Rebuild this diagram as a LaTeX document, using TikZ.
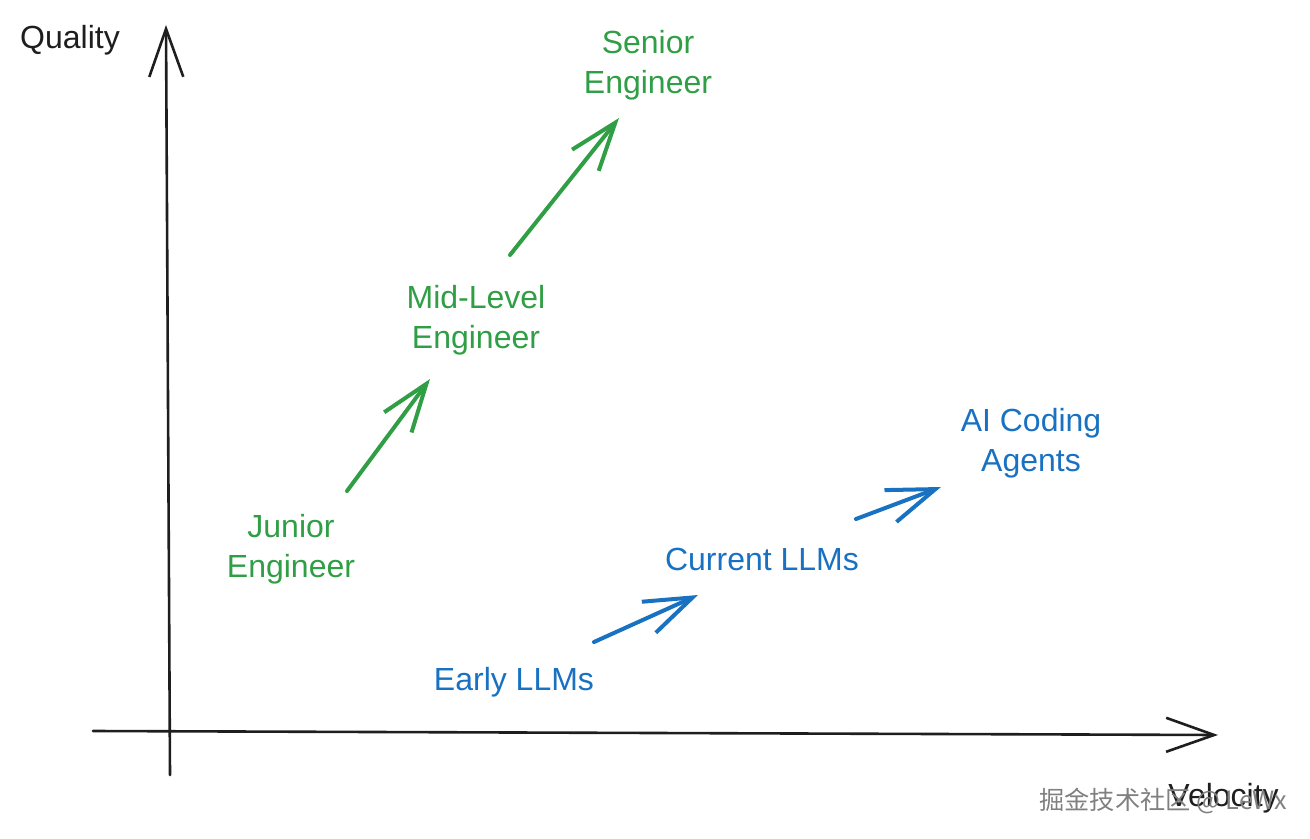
\documentclass[tikz,border=0pt]{standalone}
\usepackage{fontspec}
\setmainfont{Liberation Sans}
\newfontfamily\cjkfont{Noto Sans CJK SC}
\usetikzlibrary{arrows.meta}
\definecolor{exgreen}{RGB}{47,158,68}
\definecolor{exblue}{RGB}{25,113,194}
\definecolor{exblack}{RGB}{30,30,30}
\tikzset{
  lbl/.style={align=center, inner sep=0pt, font=\fontsize{16}{20}\selectfont},
  glbl/.style={lbl, text=exgreen},
  blbl/.style={lbl, text=exblue},
  axisline/.style={draw=exblack, line width=1.3pt, line cap=round, line join=round,
    -{Straight Barb[length=24pt,width=17pt,line width=1.3pt]}},
  progarrow/.style={line width=2pt, line cap=round, line join=round,
    -{Straight Barb[length=24pt,width=17pt,line width=2pt]}},
}
\begin{document}
\begin{tikzpicture}[x=0.5pt,y=-0.5pt]
\useasboundingbox (0,0) rectangle (1310,839);
% axes
\coordinate (yb) at (170,775);
\coordinate (yt) at (166,25);
\coordinate (xl) at (93,731);
\coordinate (xr) at (1218,735);
\draw[axisline] (yb) -- (yt);
\draw[axisline] (xl) -- (xr);
\node[lbl, text=exblack] (quality) at (70,40) {Quality};
\node[lbl, text=exblack, anchor=west] (velocity) at (1168,798) {Velocity};
% green labels
\node[glbl] (junior) at (291,549) {Junior\\Engineer};
\node[glbl] (mid) at (476,320) {Mid-Level\\Engineer};
\node[glbl] (senior) at (648,65) {Senior\\Engineer};
% blue labels
\node[blbl] (early) at (514,682) {Early LLMs};
\node[blbl] (current) at (762,559) {Current LLMs};
\node[blbl] (agents) at (1031,443) {AI Coding\\Agents};
% arrow end points
\coordinate (g1s) at (347,491);
\coordinate (g1e) at (430,379);
\coordinate (g2s) at (510,255);
\coordinate (g2e) at (619,118);
\coordinate (b1s) at (594,642);
\coordinate (b1e) at (698,595);
\coordinate (b2s) at (856,519);
\coordinate (b2e) at (941,487);
\draw[progarrow, draw=exgreen] (g1s) -- (g1e);
\draw[progarrow, draw=exgreen] (g2s) -- (g2e);
\draw[progarrow, draw=exblue] (b1s) -- (b1e);
\draw[progarrow, draw=exblue] (b2s) -- (b2e);
% watermark
\node[inner sep=0pt, anchor=west, text=black!50, font=\fontsize{12.6}{15}\selectfont] (wm) at (1039,801) {\cjkfont 掘金技术社区 @ LeWx};
\end{tikzpicture}
\end{document}
